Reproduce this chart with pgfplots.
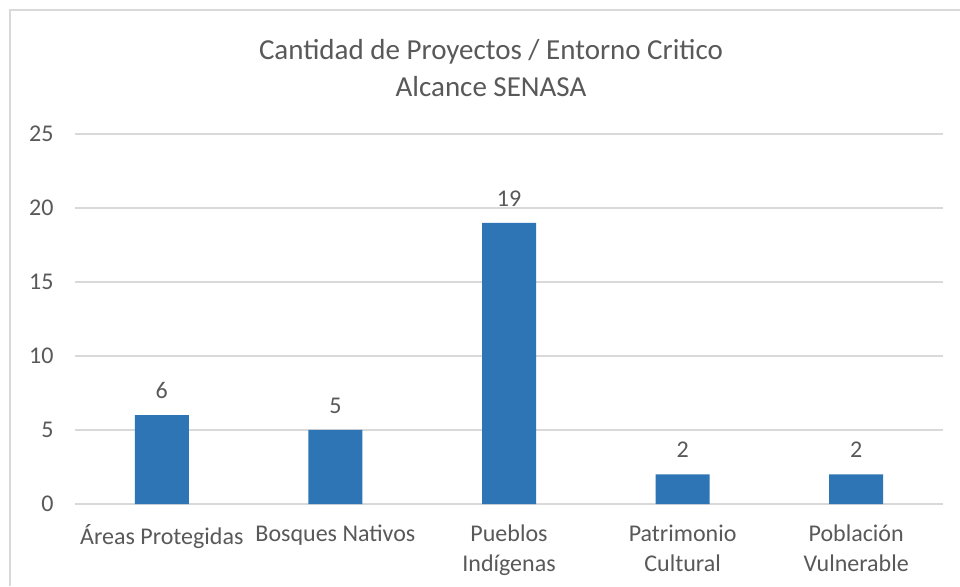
\documentclass[border=0pt]{standalone}
\usepackage{fontspec}
\setmainfont{Carlito}
\usepackage{pgfplots}
\pgfplotsset{compat=1.18}
\definecolor{barblue}{HTML}{2E75B6}
\definecolor{gridgray}{HTML}{D9D9D9}
\definecolor{txtgray}{HTML}{595959}
\begin{document}
\begin{tikzpicture}[x=1pt,y=1pt]
    \useasboundingbox (0,0) rectangle (960,586);
    \fill[white] (0,0) rectangle (960,586);
    \draw[gridgray, line width=1.5pt] (10,0) -- (10,576) -- (960,576);
    \node[txtgray, font=\fontsize{29}{34}\selectfont] at (491,534) {Cantidad de Proyectos / Entorno Critico};
    \node[txtgray, font=\fontsize{29}{34}\selectfont] at (491,499) {Alcance SENASA};
    \begin{axis}[
        at={(75pt,82pt)}, anchor=south west,
        scale only axis, width=868pt, height=370pt,
        xmin=-0.5, xmax=4.5, ymin=0, ymax=25,
        ytick={0,5,...,25},
        xtick=data,
        xticklabels={{Áreas Protegidas},{Bosques Nativos},{Pueblos\\Indígenas},{Patrimonio\\Cultural},{Población\\Vulnerable}},
        xticklabel style={align=center, font=\fontsize{24}{30}\selectfont, text=txtgray, yshift=-17pt},
        yticklabel style={font=\fontsize{24}{28}\selectfont, text=txtgray, xshift=-18pt},
        /pgf/number format/assume math mode=true,
        axis y line*=left, y axis line style={draw=none},
        axis x line*=bottom, x axis line style={gridgray, line width=1.5pt},
        ymajorgrids, grid style={gridgray, line width=1.5pt},
        major tick length=0pt,
        tick style={draw=none},
        ybar, bar width=54pt,
        nodes near coords,
        nodes near coords style={font=\fontsize{24}{28}\selectfont, text=txtgray, yshift=13pt},
        clip=false,
    ]
    \addplot[fill=barblue, draw=none] coordinates {
        (0,6) (1,5) (2,19) (3,2) (4,2)
    };
    \end{axis}
\end{tikzpicture}
\end{document}
